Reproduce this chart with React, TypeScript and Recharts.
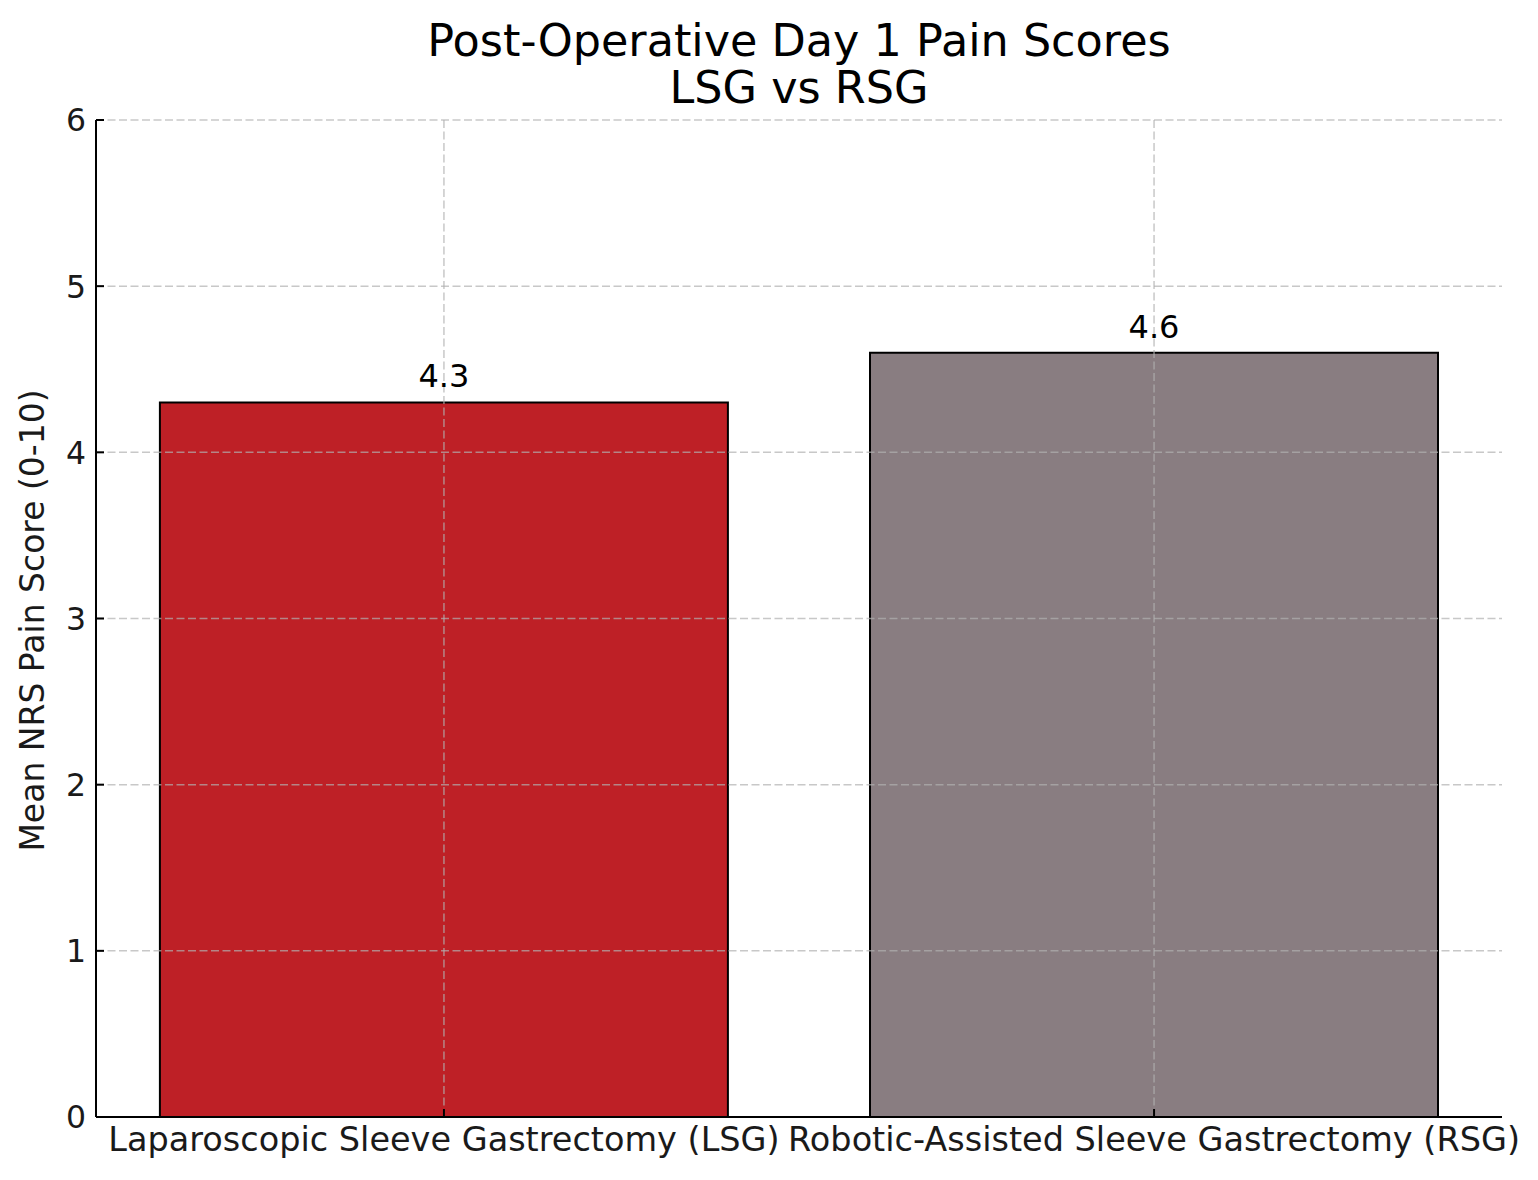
import React from "react";
import { BarChart, Bar, XAxis, YAxis, CartesianGrid, Cell, LabelList } from "recharts";

const categories = [
  "Laparoscopic Sleeve Gastrectomy (LSG)",
  "Robotic-Assisted Sleeve Gastrectomy (RSG)",
];
const painScores = [4.3, 4.6];
const barColors = ["#be2026", "#897d81"];
const yTicks = [0, 1, 2, 3, 4, 5, 6];
const xTicks = [0, 1];
const yGridValues = [1, 2, 3, 4, 5, 6];
const titleLines = ["Post-Operative Day 1 Pain Scores", "LSG vs RSG"];
const yAxisTitle = "Mean NRS Pain Score (0-10)";

const data = categories.map((name, i) => ({ idx: i, name, score: painScores[i] }));

const FONT = "DejaVu Sans";
const W = 1522;
const H = 1164;

const YTick = (props: any) => {
  const { x, y, payload } = props;
  return (
    <g>
      <line x1={x} x2={x + 8} y1={y} y2={y} stroke="#000" strokeWidth={2} />
      <text x={x - 10} y={y} dy="0.36em" textAnchor="end" fontFamily={FONT} fontSize={31.5} fill="#1a1a1a">
        {payload.value}
      </text>
    </g>
  );
};

const XTick = (props: any) => {
  const { x, y, payload } = props;
  return (
    <g>
      <line x1={x} x2={x} y1={y} y2={y - 8} stroke="#000" strokeWidth={2} />
      <text x={x} y={y + 34} textAnchor="middle" fontFamily={FONT} fontSize={33.5} fill="#1a1a1a">
        {categories[payload.value]}
      </text>
    </g>
  );
};

const BarValueLabel = (props: any) => {
  const { x, y, width, value } = props;
  return (
    <text x={x + width / 2} y={y - 15} textAnchor="middle" fontFamily={FONT} fontSize={32} fill="#000">
      {Number(value).toFixed(1)}
    </text>
  );
};

const YAxisTitle = (props: any) => {
  const { viewBox } = props;
  const cx = viewBox.x + 36;
  const cy = viewBox.y + viewBox.height / 2 + 2;
  return (
    <text
      x={cx}
      y={cy}
      textAnchor="middle"
      transform={`rotate(-90, ${cx}, ${cy})`}
      fontFamily={FONT}
      fontSize={33}
      fill="#1a1a1a"
    >
      {yAxisTitle}
    </text>
  );
};

export default function App() {
  return (
    <div style={{ position: "relative", width: W, height: H, background: "#fff" }}>
      <BarChart
        width={W}
        height={H}
        data={data}
        margin={{ top: 112, right: 28, bottom: 0, left: 0 }}
      >
        <Bar
          dataKey="score"
          barSize={568}
          stroke="#000"
          strokeWidth={2}
          isAnimationActive={false}
        >
          {data.map((d, i) => (
            <Cell key={d.name} fill={barColors[i]} />
          ))}
          <LabelList dataKey="score" content={<BarValueLabel />} />
        </Bar>
        <CartesianGrid
          stroke="#b0b0b0"
          strokeOpacity={0.7}
          strokeWidth={1.5}
          strokeDasharray="8 3.5"
          verticalValues={xTicks}
          horizontalValues={yGridValues}
          zIndex={600}
        />
        <XAxis
          type="number"
          dataKey="idx"
          domain={[-0.49, 1.49]}
          allowDataOverflow
          ticks={xTicks}
          interval={0}
          height={55}
          tickSize={0}
          tickMargin={0}
          tickLine={false}
          axisLine={{ stroke: "#000", strokeWidth: 2 }}
          tick={<XTick />}
          zIndex={700}
        />
        <YAxis
          type="number"
          domain={[0, 6]}
          ticks={yTicks}
          interval={0}
          width={88}
          tickSize={0}
          tickMargin={0}
          tickLine={false}
          axisLine={{ stroke: "#000", strokeWidth: 2 }}
          tick={<YTick />}
          label={<YAxisTitle />}
          zIndex={700}
        />
      </BarChart>
      <svg
        width={W}
        height={120}
        style={{ position: "absolute", left: 0, top: 0, pointerEvents: "none" }}
      >
        {titleLines.map((t, i) => (
          <text
            key={t}
            x={791}
            y={48 + i * 47}
            textAnchor="middle"
            fontFamily={FONT}
            fontSize={44.5}
            fill="#000"
          >
            {t}
          </text>
        ))}
      </svg>
    </div>
  );
}
